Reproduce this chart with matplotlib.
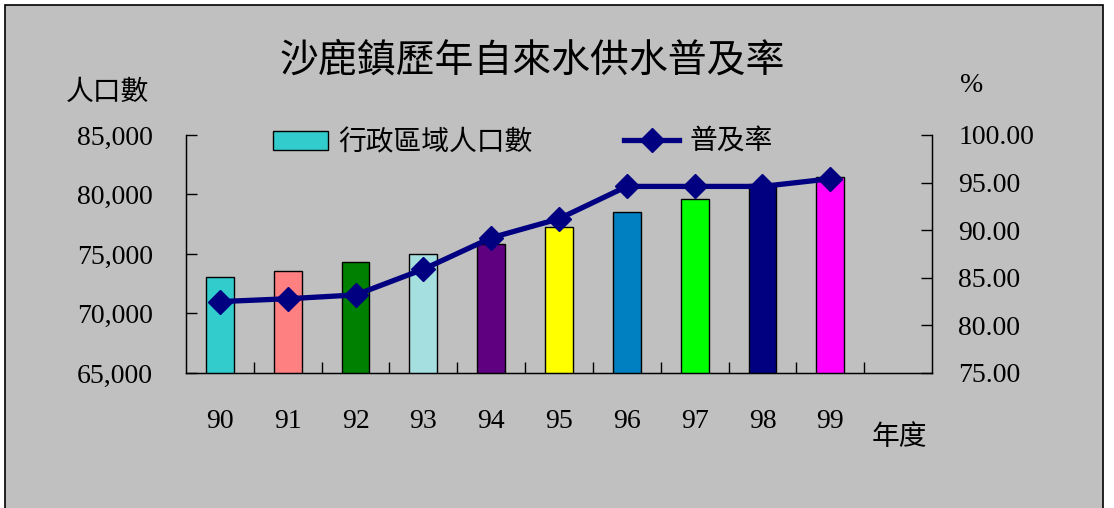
import matplotlib
matplotlib.use("Agg")
import matplotlib.pyplot as plt
import numpy as np
from matplotlib.patches import Rectangle

years = ["90", "91", "92", "93", "94", "95", "96", "97", "98", "99"]
population = [73100, 73600, 74300, 75000, 75800, 77300, 78500, 79600, 80900, 81500]
rate = [82.5, 82.8, 83.2, 85.9, 89.2, 91.2, 94.6, 94.6, 94.6, 95.4]
bar_colors = ["#33CCCC", "#FF8080", "#008000", "#A6DFE0", "#5F0080",
              "#FFFF00", "#0080C0", "#00FF00", "#000080", "#FF00FF"]

cjk = ["Noto Sans CJK TC", "DejaVu Sans"]
num_font = "Liberation Serif"
bg = "#C0C0C0"

fig = plt.figure(figsize=(11.14, 5.08), dpi=100, facecolor="white")
fig.patches.append(Rectangle((5 / 1114, -0.05), 1098 / 1114, 1.05 - 5 / 508,
                             transform=fig.transFigure, facecolor=bg,
                             edgecolor="black", linewidth=1.2, zorder=-10))

ax = fig.add_axes([186 / 1114, 1 - 373 / 508, (932 - 186) / 1114, (373 - 135) / 508])
ax.set_facecolor("none")
x = np.arange(len(years))
ax.bar(x, population, width=0.41, color=bar_colors, edgecolor="black",
       linewidth=1, zorder=2, label="行政區域人口數")
ax.set_xlim(-0.5, 10.5)
ax.set_ylim(65000, 85000)
ax.set_yticks(np.arange(65000, 85001, 5000))
ax.set_yticklabels([f"{v:,}" for v in range(65000, 85001, 5000)],
                   fontname=num_font, fontsize=20)
ax.set_xticks(x)
ax.set_xticklabels(years, fontname=num_font, fontsize=20)
ax.set_xticks(np.arange(0.5, 10.5, 1), minor=True)
ax.tick_params(axis="x", which="major", length=0, pad=26)
ax.tick_params(axis="x", which="minor", direction="in", length=8, width=1)
ax.tick_params(axis="y", direction="in", length=8, width=1, pad=24)
ax.spines["top"].set_visible(False)
for s in ["left", "right", "bottom"]:
    ax.spines[s].set_linewidth(1)

ax2 = ax.twinx()
ax2.plot(x, rate, color="#000080", linewidth=3.8, marker="D", markersize=12,
         zorder=3, label="普及率")
ax2.set_ylim(75, 100)
ax2.set_yticks(np.arange(75, 100.1, 5))
ax2.set_yticklabels([f"{v:.2f}" for v in np.arange(75, 100.1, 5)],
                    fontname=num_font, fontsize=20)
ax2.tick_params(axis="y", direction="in", length=8, width=1, pad=19)
ax2.spines["top"].set_visible(False)

h1, l1 = ax.get_legend_handles_labels()
h2, l2 = ax2.get_legend_handles_labels()
fig.legend(h1 + h2, l1 + l2, loc="center", bbox_to_anchor=(0.469, 1 - 142 / 508),
           ncol=2, frameon=False, prop={"family": cjk, "size": 20},
           columnspacing=3.3, handlelength=2.0, handletextpad=0.35)

fig.text(532 / 1114, 1 - 60 / 508, "沙鹿鎮歷年自來水供水普及率", family=cjk,
         fontsize=28, ha="center", va="center")
fig.text(107 / 1114, 1 - 92 / 508, "人口數", family=cjk, fontsize=20,
         ha="center", va="center")
fig.text(972 / 1114, 1 - 86 / 508, "%", fontname=num_font, fontsize=20,
         ha="center", va="center")
fig.text(899 / 1114, 1 - 437 / 508, "年度", family=cjk, fontsize=20,
         ha="center", va="center")

fig.savefig("out.png", dpi=100, facecolor="white")
